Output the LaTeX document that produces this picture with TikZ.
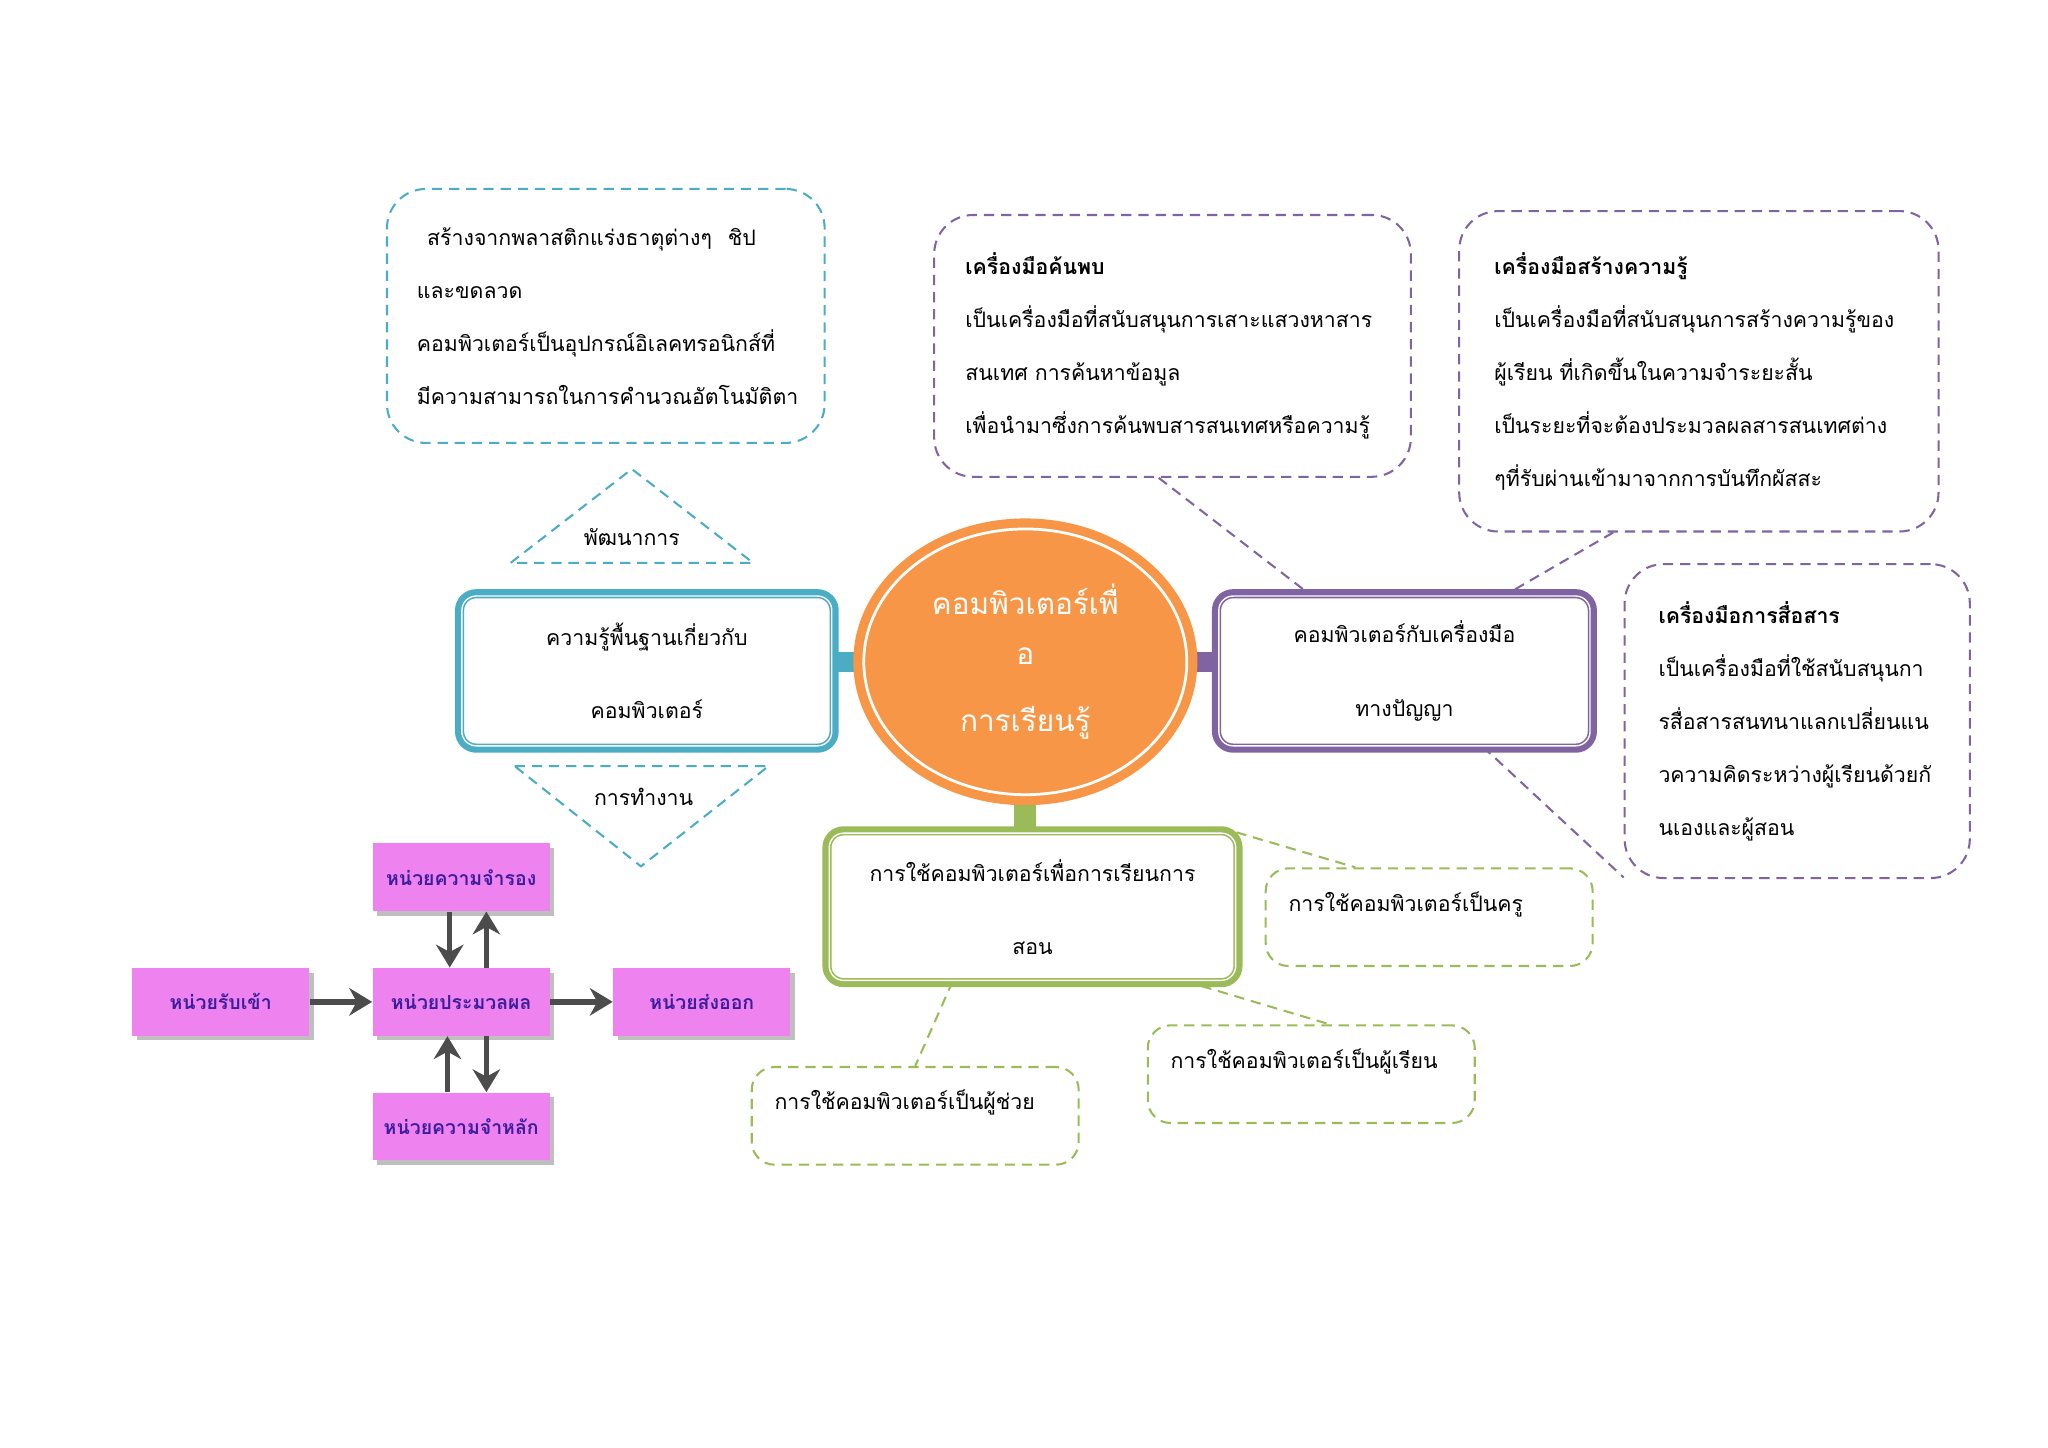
\documentclass[tikz,border=0pt]{standalone}
\usepackage{fontspec}
\setmainfont{Loma}[Script=Thai]
\usetikzlibrary{positioning, shapes.geometric, arrows.meta, shadows, backgrounds}
\definecolor{cBlue}{HTML}{4BACC6}
\definecolor{cPurple}{HTML}{8064A2}
\definecolor{cGreen}{HTML}{9BBB59}
\definecolor{cOrange}{HTML}{F79646}
\definecolor{cPink}{HTML}{EE82EE}
\definecolor{cInk}{HTML}{3C1E9C}

\begin{document}
\begin{tikzpicture}[x=0.02cm, y=-0.02cm,
                node distance = 0.86cm and 0.96cm,
                M/.style = {rectangle, rounded corners=0.22cm, fill=white, draw=#1, double=white,
                            line width=0.7pt, double distance=0.6pt, preaction={draw=#1, line width=6pt},
                            align=center, font=\fontsize{9.3}{32}\selectfont},
                D/.style = {rectangle, draw=#1, dash pattern=on 4.5pt off 3pt, line width=0.9pt,
                            rounded corners=0.6cm, align=left, font=\fontsize{9.3}{23.2}\selectfont},
                G/.style = {D=cGreen, rounded corners=0.35cm, text height=0.66cm, text depth=0.84cm,
                            inner ysep=0pt, inner xsep=0.35cm, text width=4.32cm},
                L/.style = {draw=#1, dash pattern=on 4.5pt off 3pt, line width=0.9pt},
                P/.style = {rectangle, fill=cPink, minimum width=2.72cm, minimum height=1.04cm,
                            drop shadow={shadow xshift=2pt, shadow yshift=-2pt, opacity=0.5},
                            text=cInk, font=\bfseries\fontsize{8.5}{10}\selectfont},
                A/.style = {draw=black!70, line width=2.4pt, -{Stealth[length=10pt, width=12pt]}}
                    ]
                \useasboundingbox (0,0) rectangle (1572,1111);
                % main topics
                \node[ellipse, inner sep=0pt, minimum width=4.96cm, minimum height=4.08cm,
                      fill=cOrange, draw=cOrange, line width=4pt, double=white, double distance=1.2pt,
                      text=white, align=center, font=\fontsize{13}{21.5}\selectfont]
                      (hub) at (787,508) {คอมพิวเตอร์เพื่\\อ\\[8pt]การเรียนรู้};
                \node[M=cBlue, minimum width=5.68cm, minimum height=2.3cm] (basic) at (496.5,515)
                      {ความรู้พื้นฐานเกี่ยวกับ\\คอมพิวเตอร์};
                \node[M=cPurple, minimum width=5.7cm, minimum height=2.3cm] (tools) at (1078,515)
                      {คอมพิวเตอร์กับเครื่องมือ\\ทางปัญญา};
                \node[M=cGreen, minimum width=6.24cm, minimum height=2.26cm] (teach) at (792.5,696)
                      {การใช้คอมพิวเตอร์เพื่อการเรียนการ\\สอน};
                % notes
                \node[D=cBlue, text width=5.8cm, inner xsep=0.46cm, minimum height=3.9cm] (make) at (465,242.5)
                      {\hspace{4.5pt}สร้างจากพลาสติกแร่งธาตุต่างๆ\hspace{7pt}ชิป\\และขดลวด\\คอมพิวเตอร์เป็นอุปกรณ์อิเลคทรอนิกส์ที่\\มีความสามารถในการคำนวณอัตโนมัติตา};
                \node[D=cPurple, text width=6.36cm, inner xsep=0.48cm, minimum height=4.02cm] (discover) at (900,265.5)
                      {\textbf{เครื่องมือค้นพบ}\\เป็นเครื่องมือที่สนับสนุนการเสาะแสวงหาสาร\\สนเทศ การค้นหาข้อมูล\\เพื่อนำมาซึ่งการค้นพบสารสนเทศหรือความรู้};
                \node[D=cPurple, text width=6.28cm, inner xsep=0.54cm, minimum height=4.92cm] (build) at (1304,285)
                      {\textbf{เครื่องมือสร้างความรู้}\\เป็นเครื่องมือที่สนับสนุนการสร้างความรู้ของ\\ผู้เรียน ที่เกิดขึ้นในความจำระยะสั้น\\เป็นระยะที่จะต้องประมวลผลสารสนเทศต่าง\\ๆที่รับผ่านเข้ามาจากการบันทึกผัสสะ};
                \node[D=cPurple, text width=4.26cm, inner xsep=0.52cm, minimum height=4.82cm] (comm) at (1379.5,553.5)
                      {\textbf{เครื่องมือการสื่อสาร}\\เป็นเครื่องมือที่ใช้สนับสนุนกา\\รสื่อสารสนทนาแลกเปลี่ยนแน\\วความคิดระหว่างผู้เรียนด้วยกั\\นเองและผู้สอน};
                \node[G] (guru) at (1097,704) {การใช้คอมพิวเตอร์เป็นครู};
                \node[G] (learner) at (1006.5,824.5) {การใช้คอมพิวเตอร์เป็นผู้เรียน};
                \node[G] (helper) at (702.5,856.5) {การใช้คอมพิวเตอร์เป็นผู้ช่วย};
                % triangles
                \draw[L=cBlue] (392,432) -- (485,360) -- (578,432) -- cycle;
                \node[font=\fontsize{9.3}{12}\selectfont] (grow) at (485,412) {พัฒนาการ};
                \draw[L=cBlue] (395,588) -- (590,588) -- (492,665) -- cycle;
                \node[font=\fontsize{9.3}{12}\selectfont] (work) at (494,612) {การทำงาน};
                % units
                \begin{scope}[nodes=P]
                \node (cpu) at (354,769) {หน่วยประมวลผล};
                \node (store) [above=of cpu] {หน่วยความจำรอง};
                \node (ram) [below=of cpu] {หน่วยความจำหลัก};
                \node (input) [left=of cpu] {หน่วยรับเข้า};
                \node (output) [right=of cpu] {หน่วยส่งออก};
                \end{scope}
                \draw[A] (input) -- (cpu);
                \draw[A] (cpu) -- (output);
                \draw[A] ([xshift=-5pt]store.south) -- ([xshift=-5pt]cpu.north);
                \draw[A] ([xshift=11pt]cpu.north) -- ([xshift=11pt]store.south);
                \draw[A] ([xshift=-6pt]ram.north) -- ([xshift=-6pt]cpu.south);
                \draw[A] ([xshift=11pt]cpu.south) -- ([xshift=11pt]ram.north);
                % links
                \begin{scope}[on background layer]
                \draw[cBlue, line width=8.5pt] (hub.center) -- (hub.center -| basic.east);
                \draw[cPurple, line width=8.5pt] (hub.center) -- (hub.center -| tools.west);
                \draw[cGreen, line width=9.6pt] (hub.center) -- (hub.center |- teach.north);
                \draw[L=cPurple] (discover.264) -- (tools.141);
                \draw[L=cPurple] (build.242) -- (tools.37);
                \draw[L=cPurple] (tools.316) -- (comm.222);
                \draw[L=cGreen] (teach.north east) -- (guru.146);
                \draw[L=cGreen] (teach.334) -- (learner.70);
                \draw[L=cGreen] (teach.223) -- (helper.north);
                \end{scope}
            \end{tikzpicture}
\end{document}
